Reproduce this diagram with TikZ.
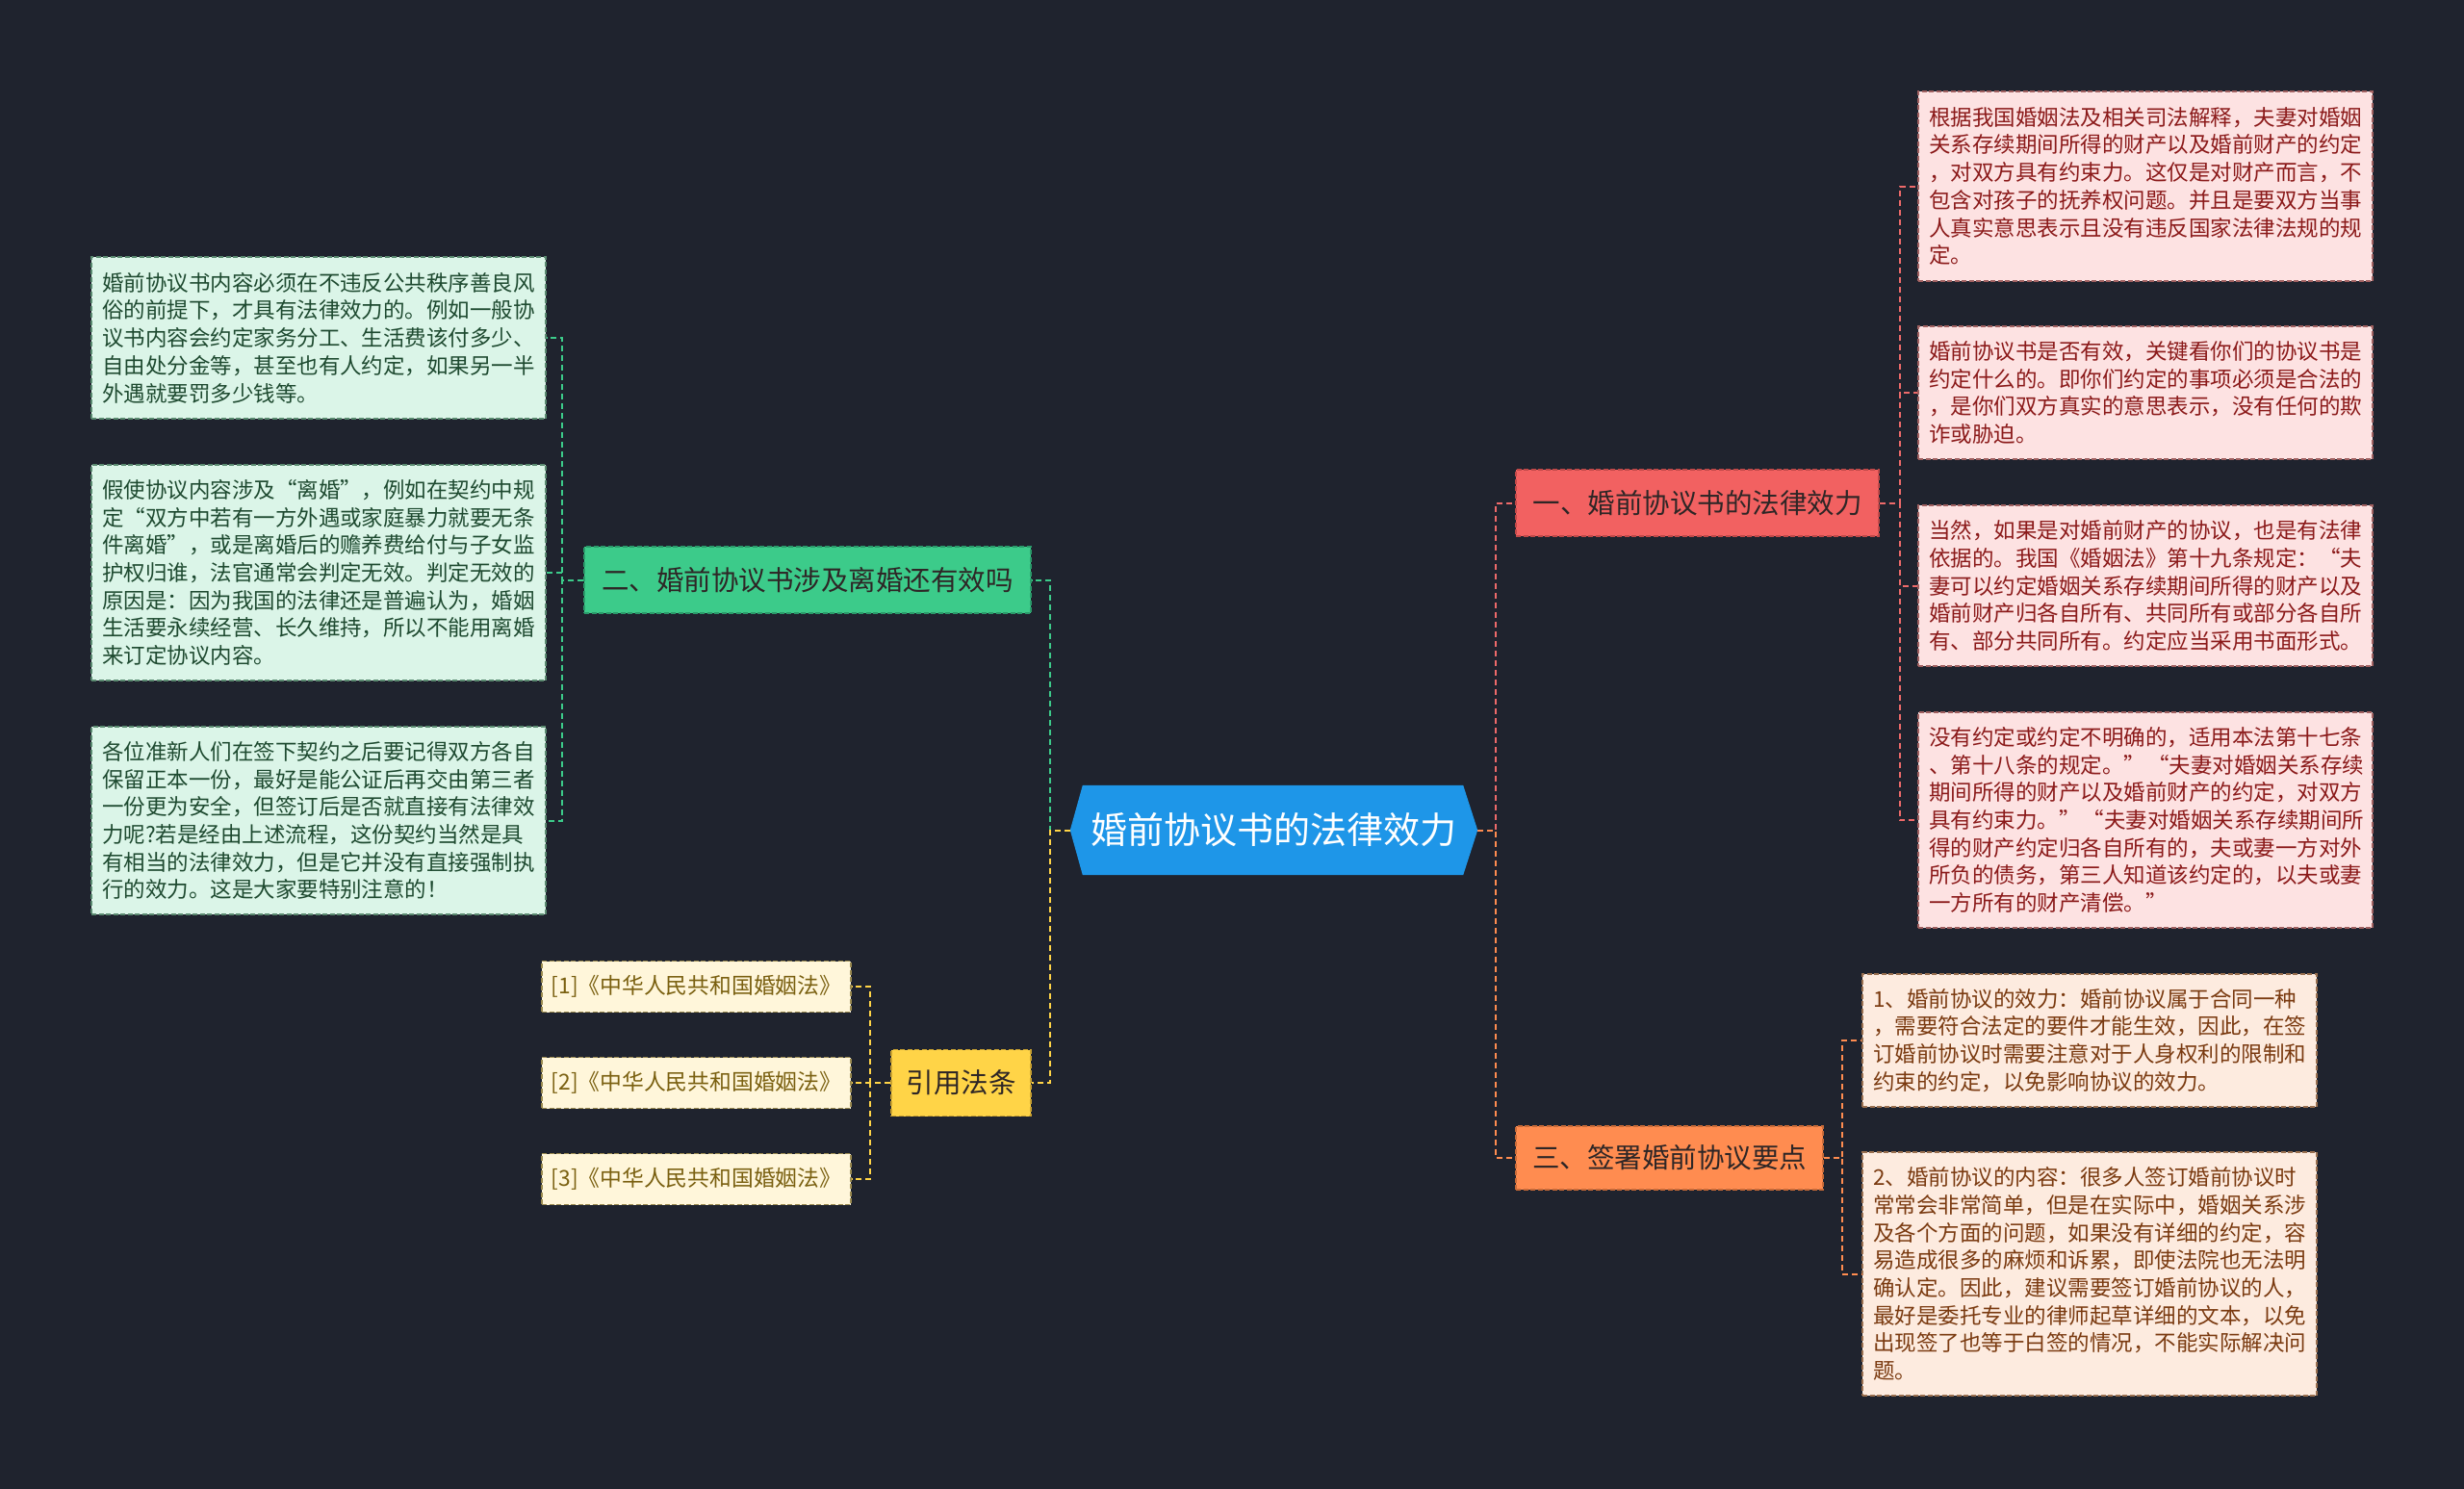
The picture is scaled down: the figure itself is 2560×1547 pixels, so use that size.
\documentclass[tikz,border=0pt]{standalone}
\usepackage{fontspec}
\setmainfont{Noto Sans CJK SC}
\usetikzlibrary{calc}
\definecolor{bgc}{HTML}{1F232E}
\definecolor{rootc}{HTML}{1E96E8}
\definecolor{redc}{HTML}{F26161}
\definecolor{redb}{HTML}{C04848}
\definecolor{redline}{HTML}{EE6A6A}
\definecolor{pinkf}{HTML}{FDE2E2}
\definecolor{pinkb}{HTML}{A06060}
\definecolor{pinkt}{HTML}{8B1A1A}
\definecolor{greenc}{HTML}{3CCB8A}
\definecolor{greenb}{HTML}{2A9A6A}
\definecolor{mintf}{HTML}{DBF5E8}
\definecolor{mintb}{HTML}{5A8A70}
\definecolor{mintt}{HTML}{1E4A30}
\definecolor{orangec}{HTML}{FF8C50}
\definecolor{orangeb}{HTML}{C86A38}
\definecolor{peachf}{HTML}{FDEBDF}
\definecolor{peachb}{HTML}{9A7050}
\definecolor{peacht}{HTML}{7A3A10}
\definecolor{yellowc}{HTML}{FFD447}
\definecolor{yellowb}{HTML}{C8A030}
\definecolor{creamf}{HTML}{FFF6DA}
\definecolor{creamb}{HTML}{9A8A50}
\definecolor{creamt}{HTML}{7A6010}
\definecolor{brt}{HTML}{2E2626}
\tikzset{
  conn/.style={line width=2pt, dash pattern=on 6pt off 4pt},
  leaf/.style={draw, line width=1.3pt, dash pattern=on 5pt off 2.5pt, text width=450pt, inner xsep=11pt, inner ysep=0pt, align=left, font=\fontsize{22.5}{28.7}\selectfont},
  branch/.style={draw, line width=1.3pt, dash pattern=on 5pt off 2.5pt, inner sep=0pt, font=\fontsize{28.5}{34}\selectfont, text=brt, minimum height=69pt},
  cite/.style={draw=creamb, fill=creamf, text=creamt, line width=1.3pt, dash pattern=on 5pt off 2.5pt, inner sep=0pt, minimum width=321pt, minimum height=53pt, font=\fontsize{22.8}{26}\selectfont},
}
\begin{document}
\begin{tikzpicture}[x=1pt,y=-1pt]
\fill[bgc] (0,0) rectangle (2560,1547);
\useasboundingbox (0,0) rectangle (2560,1547);

% root
\node[minimum width=423pt, minimum height=93pt, inner sep=0pt] (root) at (1323.5,862.5) {};
\fill[rootc] ($(root.north west)+(13,0)$) -- ($(root.north east)+(-15,0)$) -- (root.east) -- ($(root.south east)+(-15,0)$) -- ($(root.south west)+(13,0)$) -- (root.west) -- cycle;
\node[text=white, font=\fontsize{38}{42}\selectfont] at (root.center) {婚前协议书的法律效力};

% branches
\node[branch, fill=redc, draw=redb, minimum width=377pt] (b1) at (1763.5,522.5) {一、婚前协议书的法律效力};
\node[branch, fill=orangec, draw=orangeb, minimum width=319pt, minimum height=66pt] (b3) at (1734.5,1203) {三、签署婚前协议要点};
\node[branch, fill=greenc, draw=greenb, minimum width=464pt] (b2) at (839,602.5) {二、婚前协议书涉及离婚还有效吗};
\node[branch, fill=yellowc, draw=yellowb, minimum width=145pt] (b4) at (998.5,1125) {引用法条};

% red leaves
\node[leaf, fill=pinkf, draw=pinkb, text=pinkt, minimum height=197pt] (r1) at (2229,193.5) {根据我国婚姻法及相关司法解释，夫妻对婚姻\\关系存续期间所得的财产以及婚前财产的约定\\，对双方具有约束力。这仅是对财产而言，不\\包含对孩子的抚养权问题。并且是要双方当事\\人真实意思表示且没有违反国家法律法规的规\\定。};
\node[leaf, fill=pinkf, draw=pinkb, text=pinkt, minimum height=138pt] (r2) at (2229,408) {婚前协议书是否有效，关键看你们的协议书是\\约定什么的。即你们约定的事项必须是合法的\\，是你们双方真实的意思表示，没有任何的欺\\诈或胁迫。};
\node[leaf, fill=pinkf, draw=pinkb, text=pinkt, minimum height=167pt] (r3) at (2229,608.5) {当然，如果是对婚前财产的协议，也是有法律\\依据的。我国《婚姻法》第十九条规定：“夫\\妻可以约定婚姻关系存续期间所得的财产以及\\婚前财产归各自所有、共同所有或部分各自所\\有、部分共同所有。约定应当采用书面形式。};
\node[leaf, fill=pinkf, draw=pinkb, text=pinkt, minimum height=224pt] (r4) at (2229,852) {没有约定或约定不明确的，适用本法第十七条\\、第十八条的规定。”\kern2pt“夫妻对婚姻关系存续\\期间所得的财产以及婚前财产的约定，对双方\\具有约束力。”\kern2pt“夫妻对婚姻关系存续期间所\\得的财产约定归各自所有的，夫或妻一方对外\\所负的债务，第三人知道该约定的，以夫或妻\\一方所有的财产清偿。”};

% orange leaves
\node[leaf, fill=peachf, draw=peachb, text=peacht, minimum height=138pt] (o1) at (2171,1081) {1、婚前协议的效力：婚前协议属于合同一种\\，需要符合法定的要件才能生效，因此，在签\\订婚前协议时需要注意对于人身权利的限制和\\约束的约定，以免影响协议的效力。};
\node[leaf, fill=peachf, draw=peachb, text=peacht, minimum height=253pt] (o2) at (2171,1323.5) {2、婚前协议的内容：很多人签订婚前协议时\\常常会非常简单，但是在实际中，婚姻关系涉\\及各个方面的问题，如果没有详细的约定，容\\易造成很多的麻烦和诉累，即使法院也无法明\\确认定。因此，建议需要签订婚前协议的人，\\最好是委托专业的律师起草详细的文本，以免\\出现签了也等于白签的情况，不能实际解决问\\题。};

% green leaves
\node[leaf, fill=mintf, draw=mintb, text=mintt, minimum height=168pt] (g1) at (331,351) {婚前协议书内容必须在不违反公共秩序善良风\\俗的前提下，才具有法律效力的。例如一般协\\议书内容会约定家务分工、生活费该付多少、\\自由处分金等，甚至也有人约定，如果另一半\\外遇就要罚多少钱等。};
\node[leaf, fill=mintf, draw=mintb, text=mintt, minimum height=224pt] (g2) at (331,595) {假使协议内容涉及“离婚”，例如在契约中规\\定“双方中若有一方外遇或家庭暴力就要无条\\件离婚”，或是离婚后的赡养费给付与子女监\\护权归谁，法官通常会判定无效。判定无效的\\原因是：因为我国的法律还是普遍认为，婚姻\\生活要永续经营、长久维持，所以不能用离婚\\来订定协议内容。};
\node[leaf, fill=mintf, draw=mintb, text=mintt, minimum height=195pt] (g3) at (331,852.5) {各位准新人们在签下契约之后要记得双方各自\\保留正本一份，最好是能公证后再交由第三者\\一份更为安全，但签订后是否就直接有法律效\\力呢?若是经由上述流程，这份契约当然是具\\有相当的法律效力，但是它并没有直接强制执\\行的效力。这是大家要特别注意的！};

% citation leaves
\node[cite] (y1) at (723.5,1025) {[1]《中华人民共和国婚姻法》};
\node[cite] (y2) at (723.5,1125) {[2]《中华人民共和国婚姻法》};
\node[cite] (y3) at (723.5,1225) {[3]《中华人民共和国婚姻法》};

% junction coordinates
\coordinate (jr) at ($(root.east)+(19,0)$);
\coordinate (jl) at ($(root.west)+(-21,0)$);
\coordinate (j1) at ($(b1.east)+(21,0)$);
\coordinate (j3) at ($(b3.east)+(19,0)$);
\coordinate (j2) at ($(b2.west)+(-22,0)$);
\coordinate (j4) at ($(b4.west)+(-21,0)$);

% root connectors
\draw[conn, redline] (root.east) -- (jr) |- (b1.west);
\draw[conn, orangec] (root.east) -- (jr) |- (b3.west);
\draw[conn, greenc] (root.west) -- (jl) |- (b2.east);
\draw[conn, yellowc] (root.west) -- (jl) |- (b4.east);

% branch connectors
\foreach \c in {r1,r2,r3,r4} \draw[conn, redline] (b1.east) -- (j1) |- (\c.west);
\foreach \c in {o1,o2} \draw[conn, orangec] (b3.east) -- (j3) |- (\c.west);
\foreach \c in {g1,g2,g3} \draw[conn, greenc] (b2.west) -- (j2) |- (\c.east);
\foreach \c in {y1,y2,y3} \draw[conn, yellowc] (b4.west) -- (j4) |- (\c.east);
\end{tikzpicture}
\end{document}
